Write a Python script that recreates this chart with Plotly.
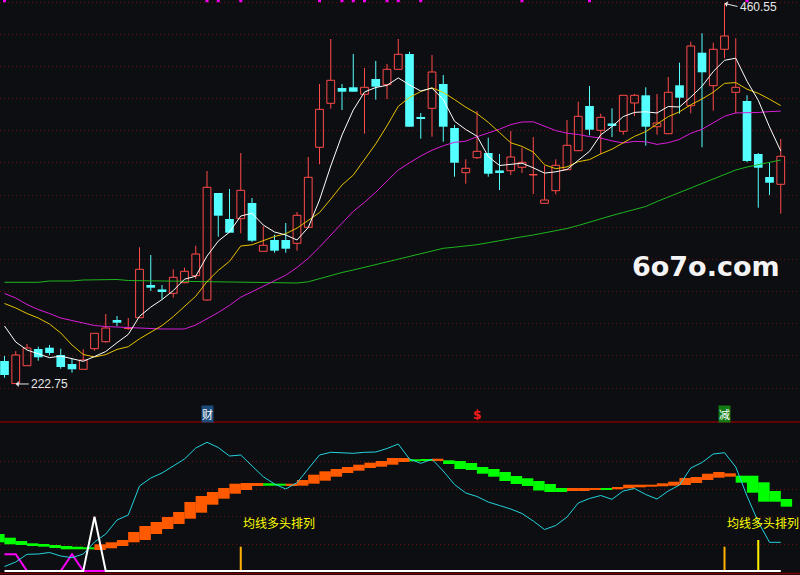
import plotly.graph_objects as go

# ---------------- data ----------------
idx = list(range(70))

open_ = [237.11, 223.00, 234.18, 244.62, 245.43, 240.87, 235.24, 231.93, 244.80, 249.18,
         262.74, 257.43, 264.18, 284.62, 281.49, 279.43, 286.05, 290.43, 275.24, 342.12,
         325.87, 326.05, 335.87, 305.68, 312.74, 312.74, 310.68, 320.68, 370.68, 398.18,
         407.74, 408.18, 403.80, 413.37, 409.80, 419.43, 428.99, 389.30, 395.05, 410.24,
         382.74, 354.80, 364.18, 367.12, 355.87, 356.05, 358.18, 353.37, 335.68, 343.55,
         356.68, 368.55, 396.49, 381.30, 385.24, 380.68, 398.37, 403.18, 383.55, 379.18,
         409.43, 396.68, 429.80, 409.18, 431.93, 405.05, 399.62, 366.49, 352.12, 347.55]
high = [240.24, 243.37, 247.74, 246.05, 247.12, 244.80, 238.55, 244.43, 254.62, 266.49,
        265.24, 263.99, 308.18, 303.37, 284.62, 294.43, 295.43, 309.18, 355.87, 342.12,
        344.62, 367.12, 338.99, 321.49, 316.05, 323.37, 330.24, 364.62, 410.24, 438.37,
        410.24, 428.99, 420.24, 424.62, 422.74, 438.37, 430.43, 392.12, 428.37, 415.87,
        384.62, 363.18, 393.37, 376.68, 366.49, 380.87, 370.43, 377.12, 359.18, 363.18,
        387.74, 399.18, 408.99, 391.68, 395.05, 403.18, 403.99, 408.18, 403.99, 414.62,
        423.55, 436.68, 441.93, 436.05, 460.55, 438.80, 403.18, 367.12, 361.05, 375.87]
low = [226.68, 222.75, 233.99, 237.30, 240.68, 232.30, 229.80, 231.93, 243.55, 248.55,
       258.99, 256.49, 264.18, 280.87, 275.87, 276.68, 285.68, 288.37, 274.80, 314.80,
       317.30, 316.93, 311.49, 305.68, 304.80, 304.80, 306.05, 320.68, 360.05, 394.80,
       393.99, 405.43, 379.18, 400.43, 400.87, 419.43, 383.55, 376.05, 377.30, 374.18,
       352.30, 347.93, 363.37, 352.30, 343.99, 353.37, 354.62, 341.49, 335.68, 341.30,
       356.68, 368.55, 378.18, 366.30, 377.12, 378.55, 390.24, 371.68, 378.55, 379.18,
       391.68, 391.93, 370.68, 393.55, 426.30, 391.93, 361.30, 332.93, 340.87, 329.18]
close = [228.37, 240.87, 245.24, 239.43, 242.12, 233.37, 231.93, 237.74, 254.43, 257.74,
         261.05, 257.74, 294.43, 282.93, 281.18, 289.43, 293.18, 303.99, 345.68, 327.93,
         317.30, 343.80, 312.30, 309.43, 306.05, 307.30, 328.18, 351.93, 394.43, 412.55,
         405.43, 405.43, 408.18, 408.55, 419.43, 428.80, 383.55, 388.99, 417.74, 383.55,
         361.05, 357.55, 368.18, 354.18, 355.55, 364.62, 361.30, 353.68, 337.74, 359.43,
         371.93, 390.05, 381.68, 389.43, 384.93, 403.18, 403.18, 383.55, 385.87, 405.05,
         401.68, 433.99, 417.55, 431.93, 440.24, 408.18, 362.12, 357.93, 348.55, 365.05]

ma5 = [258.99, 248.99, 243.99, 241.49, 239.18, 240.18, 238.43, 236.93, 239.93, 243.05,
       248.55, 253.74, 265.05, 270.80, 275.49, 281.12, 288.24, 290.12, 302.68, 312.05,
       317.68, 327.74, 329.43, 322.12, 317.74, 315.87, 312.74, 320.55, 337.74, 358.99,
       378.37, 393.99, 405.24, 408.05, 409.43, 414.05, 409.68, 405.87, 407.68, 400.55,
       386.99, 381.80, 377.62, 364.93, 359.30, 359.99, 360.74, 357.87, 354.55, 355.37,
       356.80, 362.55, 368.18, 378.49, 383.62, 389.87, 392.49, 392.87, 392.12, 396.18,
       395.87, 402.05, 408.80, 418.05, 425.05, 426.37, 411.99, 400.05, 383.43, 368.37]
ma10 = [273.05, 270.24, 266.80, 263.99, 260.24, 254.62, 247.12, 241.18, 239.62, 241.12,
        244.36, 246.05, 250.99, 255.37, 259.24, 264.86, 270.99, 277.62, 286.74, 293.74,
        299.37, 308.99, 309.74, 312.43, 314.93, 316.68, 320.18, 324.99, 329.87, 338.30,
        347.12, 353.30, 362.87, 372.80, 384.12, 396.30, 401.80, 405.55, 407.87, 404.99,
        400.55, 395.74, 391.74, 386.30, 379.93, 373.49, 371.24, 367.74, 359.74, 357.30,
        358.43, 361.68, 362.99, 366.55, 369.49, 373.30, 377.49, 380.49, 385.30, 389.87,
        392.87, 397.24, 400.87, 405.12, 410.62, 411.12, 406.99, 404.43, 400.74, 396.74]
ma20 = [279.30, 276.49, 272.43, 269.30, 266.80, 263.99, 262.43, 260.87, 259.30, 258.68,
        258.37, 257.74, 257.43, 257.12, 257.12, 257.12, 257.12, 259.62, 263.37, 267.43,
        271.87, 276.99, 280.37, 283.87, 287.05, 290.74, 295.55, 301.30, 308.30, 315.99,
        323.24, 330.62, 336.30, 342.62, 349.49, 356.49, 360.99, 365.24, 368.87, 371.62,
        373.80, 374.49, 377.30, 379.55, 381.99, 384.87, 386.49, 386.62, 383.80, 381.12,
        379.49, 378.68, 377.37, 376.43, 374.68, 373.37, 374.37, 374.12, 372.49, 373.55,
        375.62, 379.43, 381.93, 385.80, 390.05, 392.18, 392.24, 392.43, 392.99, 393.30]
ma60 = [286.30, 286.30, 286.30, 286.30, 287.12, 287.12, 287.12, 287.74, 287.74, 288.05,
        288.05, 287.43, 287.30, 287.30, 287.30, 287.30, 286.80, 286.68, 286.68, 286.68,
        286.30, 286.30, 286.30, 286.30, 286.18, 285.87, 285.87, 286.62, 288.68, 290.43,
        292.43, 293.99, 295.68, 297.43, 299.18, 300.87, 302.74, 304.43, 306.18, 307.55,
        308.24, 308.80, 309.80, 311.05, 312.43, 313.55, 314.74, 315.87, 317.12, 318.37,
        319.93, 321.80, 323.99, 325.87, 328.05, 329.93, 331.80, 333.68, 336.80, 339.62,
        342.43, 344.93, 347.74, 350.55, 353.37, 356.49, 358.37, 359.80, 361.18, 362.74]

# indicator panel
rib_pos = [k + 0.5 for k in range(-1, 70)]
rib_fast = [28.7, 26.7, 26, 25, 24.3, 23, 21.7, 21.7, 21.7,
            26.7, 28.7, 31, 39, 45, 49, 54, 59, 69, 75, 79, 83, 87.3, 88, 88,
            85.3, 85.3, 87.3, 91, 96.3, 99.7, 102, 104, 106.3, 108.3, 110, 113, 113,
            109.7, 110, 112.3, 107, 102, 101, 97.3, 94.3, 90, 87, 85, 80.5, 79, 79,
            83, 83, 83, 81, 84, 86.3, 86.3, 86.3, 87.7, 89.3, 93, 94, 97.3, 99, 97.7,
            88.3, 78.3, 69.3, 69.3, 64.3]
rib_slow = [37, 33.3, 30, 27.7, 27, 26, 25, 24.3, 23.7,
            21, 22.7, 25, 28.7, 31, 37, 42, 47, 52.3, 58.3, 66.3, 72.3, 77.3, 81, 85,
            87.7, 87.3, 85.7, 85.3, 87.3, 90.3, 94.3, 98, 100.3, 103, 104.3, 106.3, 109,
            111.7, 111.7, 110.5, 110.7, 110, 108, 104, 102, 99, 95, 92.7, 90, 87, 83,
            80, 80, 81, 82.5, 81.7, 82.7, 83.7, 84.3, 84.7, 85.3, 86, 88, 91, 93.3, 94.3,
            95.3, 95.3, 88.7, 80, 72]
cyan_line = [4.5, 9, 16.7, 17, 18.5, 15, 13.3, 17, 29, 37,
             51, 56, 85, 93, 98, 105, 112, 123, 128.7, 123.5,
             115, 116, 105, 94.3, 87, 82, 88.3, 102.7, 116, 118.7,
             118, 117.7, 118.7, 119, 122.5, 127, 112, 107.7, 111.7, 100,
             86.5, 78, 74.5, 69, 65.5, 62, 57.5, 50, 41.5, 45.5,
             54, 68, 72.5, 75.5, 71.7, 80, 82.5, 76.5, 72, 80,
             86, 103, 108.5, 117, 118.3, 104, 75, 49, 28.7, 28.7]
white_line = [0, 0, 0, 0, 0, 0, 0, 0, 54.3, 0,
              0, 0, 0, 0, 0, 0, 0, 0, 0, 0,
              0, 0, 0, 0, 0, 0, 0, 0, 0, 0,
              0, 0, 0, 0, 0, 0, 0, 0, 0, 0,
              0, 0, 0, 0, 0, 0, 0, 0, 0, 0,
              0, 0, 0, 0, 0, 0, 0, 0, 0, 0,
              0, 0, 0, 0, 0, 0, 0, 0, 0, 0]
magenta_line = [16.7, 16.7, 0, 0, 0, 0, 16.7, 0, 0, 0]
signal_idx = [21, 64, 67]
signal_val = [24.3, 24.3, 31]
top_marks = [0, 18, 19, 21, 28, 30, 31, 32, 34, 35, 37, 46, 52, 66]
price_high_label = "460.55"
price_low_label = "222.75"

# ---------------- style ----------------
BG = "#0D0E11"
RED = "#FF4A4A"
CYAN = "#54FFFF"
GRID = "#6A0E0E"

fig = go.Figure()

up = [i for i in idx if close[i] >= open_[i]]
dn = [i for i in idx if close[i] < open_[i]]

# bodies
fig.add_trace(go.Bar(x=up, base=[min(open_[i], close[i]) for i in up],
                     y=[max(abs(close[i] - open_[i]), 0.05) for i in up],
                     width=0.69, marker=dict(color="rgba(0,0,0,0)", line=dict(color=RED, width=1)),
                     yaxis="y", hoverinfo="skip"))
dn_h = [max(abs(close[i] - open_[i]), 1.0) for i in dn]
fig.add_trace(go.Bar(x=dn, base=[(open_[i] + close[i]) / 2 - h / 2 for i, h in zip(dn, dn_h)],
                     y=dn_h, width=0.77, marker=dict(color=CYAN, line=dict(width=0)),
                     yaxis="y", hoverinfo="skip"))

# wicks
wx, wy = [], []
for i in up:
    wx += [i, i, None, i, i, None]
    wy += [high[i], close[i], None, open_[i], low[i], None]
fig.add_trace(go.Scatter(x=wx, y=wy, mode="lines", line=dict(color=RED, width=1),
                         yaxis="y", hoverinfo="skip"))
cx, cy = [], []
for i in dn:
    cx += [i, i, None]
    cy += [high[i], low[i], None]
fig.add_trace(go.Scatter(x=cx, y=cy, mode="lines", line=dict(color=CYAN, width=1),
                         yaxis="y", hoverinfo="skip"))

# moving averages
for vals, col in [(ma60, "#1EB41E"), (ma20, "#D81ED8"), (ma10, "#E6C200"), (ma5, "#FFFFFF")]:
    fig.add_trace(go.Scatter(x=idx, y=vals, mode="lines", line=dict(color=col, width=1),
                             yaxis="y", hoverinfo="skip"))

# marks at the top edge
fig.add_trace(go.Scatter(x=top_marks, y=[462.3] * len(top_marks), mode="markers",
                         marker=dict(symbol="square", size=3, color="#FF00FF"),
                         yaxis="y", hoverinfo="skip"))

# indicator ribbon
rib_base = [min(a, b) for a, b in zip(rib_fast, rib_slow)]
rib_h = [max(abs(a - b), 1.2) for a, b in zip(rib_fast, rib_slow)]
rib_col = ["#FF5A00" if a > b else "#00FF00" for a, b in zip(rib_fast, rib_slow)]
fig.add_trace(go.Bar(x=rib_pos, base=rib_base, y=rib_h, width=1.02,
                     marker=dict(color=rib_col, line=dict(width=0)),
                     yaxis="y2", hoverinfo="skip"))
fig.add_trace(go.Bar(x=signal_idx, base=[0] * len(signal_idx), y=signal_val, width=0.18,
                     marker=dict(color=["#FFB000", "#FFB000", "#FFF000"], line=dict(width=0)),
                     yaxis="y2", hoverinfo="skip"))
fig.add_trace(go.Scatter(x=idx[:len(magenta_line)], y=magenta_line, mode="lines",
                         line=dict(color="#FF00FF", width=2), yaxis="y2", hoverinfo="skip"))
fig.add_trace(go.Scatter(x=idx, y=cyan_line, mode="lines",
                         line=dict(color="#22D3DD", width=1), yaxis="y2", hoverinfo="skip"))
fig.add_trace(go.Scatter(x=idx, y=white_line, mode="lines",
                         line=dict(color="#FFFFFF", width=2), yaxis="y2", hoverinfo="skip"))

SPLIT = 1 - 422 / 575

annotations = [
    dict(x=64, y=high[64], xref="x", yref="y", text=price_high_label, showarrow=True,
         ax=13, ay=3, xanchor="left", yanchor="middle", arrowhead=1, arrowsize=1,
         arrowwidth=1, arrowcolor="#E6E6E6",
         font=dict(family="Liberation Sans", size=12, color="#E6E6E6")),
    dict(x=1, y=low[1], xref="x", yref="y", text=price_low_label, showarrow=True,
         ax=13, ay=0, xanchor="left", yanchor="middle", arrowhead=1, arrowsize=1,
         arrowwidth=1, arrowcolor="#E6E6E6",
         font=dict(family="Liberation Sans", size=12, color="#E6E6E6")),
    dict(x=706 / 800, y=1 - 266 / 575, xref="paper", yref="paper", text="<b>6o7o.com</b>",
         showarrow=False, xanchor="center", yanchor="middle",
         font=dict(family="DejaVu Sans", size=27, color="#F4F4F4")),
    dict(x=18, y=204, xref="x", yref="y", text="财", showarrow=False, bgcolor="#1D4C7C",
         borderpad=0, font=dict(family="Noto Sans CJK SC", size=11, color="#FFFFFF")),
    dict(x=42, y=203.4, xref="x", yref="y", text="<b>$</b>", showarrow=False,
         font=dict(family="DejaVu Sans", size=12, color="#FF1A1A")),
    dict(x=64, y=204, xref="x", yref="y", text="减", showarrow=False, bgcolor="#127A12",
         borderpad=0, font=dict(family="Noto Sans CJK SC", size=11, color="#FFFFFF")),
    dict(x=21, y=48.5, xref="x", yref="y2", text="均线多头排列", showarrow=False,
         xanchor="left", yanchor="middle",
         font=dict(family="Noto Sans CJK SC", size=12, color="#FFFF00")),
    dict(x=64, y=48.5, xref="x", yref="y2", text="均线多头排列", showarrow=False,
         xanchor="left", yanchor="middle",
         font=dict(family="Noto Sans CJK SC", size=12, color="#FFFF00")),
]

shapes = [
    dict(type="line", xref="paper", yref="paper", x0=0, x1=1, y0=SPLIT, y1=SPLIT,
         line=dict(color="#7A0000", width=1.5)),
    dict(type="line", xref="paper", yref="paper", x0=0, x1=1, y0=1.5 / 575, y1=1.5 / 575,
         line=dict(color="#7A0000", width=1.5)),
]

fig.update_layout(
    width=800, height=575, margin=dict(l=0, r=0, t=0, b=0),
    paper_bgcolor=BG, plot_bgcolor=BG, showlegend=False, barmode="overlay",
    font=dict(family="Liberation Sans"),
    xaxis=dict(range=[-0.4, 70.71], visible=False, fixedrange=True),
    yaxis=dict(domain=[SPLIT, 1], range=[198.99, 462.74], showticklabels=False, ticks="",
               tickvals=[461.49, 441.38, 421.28, 401.17, 381.07, 360.96, 340.85, 320.75,
                         300.64, 280.54, 260.43, 240.32, 220.22],
               showgrid=True, gridcolor=GRID, griddash="1px,3px", gridwidth=1,
               zeroline=False, showline=False, fixedrange=True),
    yaxis2=dict(domain=[0, SPLIT], range=[-4, 149], anchor="x", showticklabels=False, ticks="",
                tickvals=[26.7, 54.2, 81.7, 109.2],
                showgrid=True, gridcolor=GRID, griddash="1px,3px", gridwidth=1,
                zeroline=False, showline=False, fixedrange=True),
    annotations=annotations, shapes=shapes,
)

fig.write_html("out.html", post_script="document.body.style.margin='0';",
               config={"displayModeBar": False})
